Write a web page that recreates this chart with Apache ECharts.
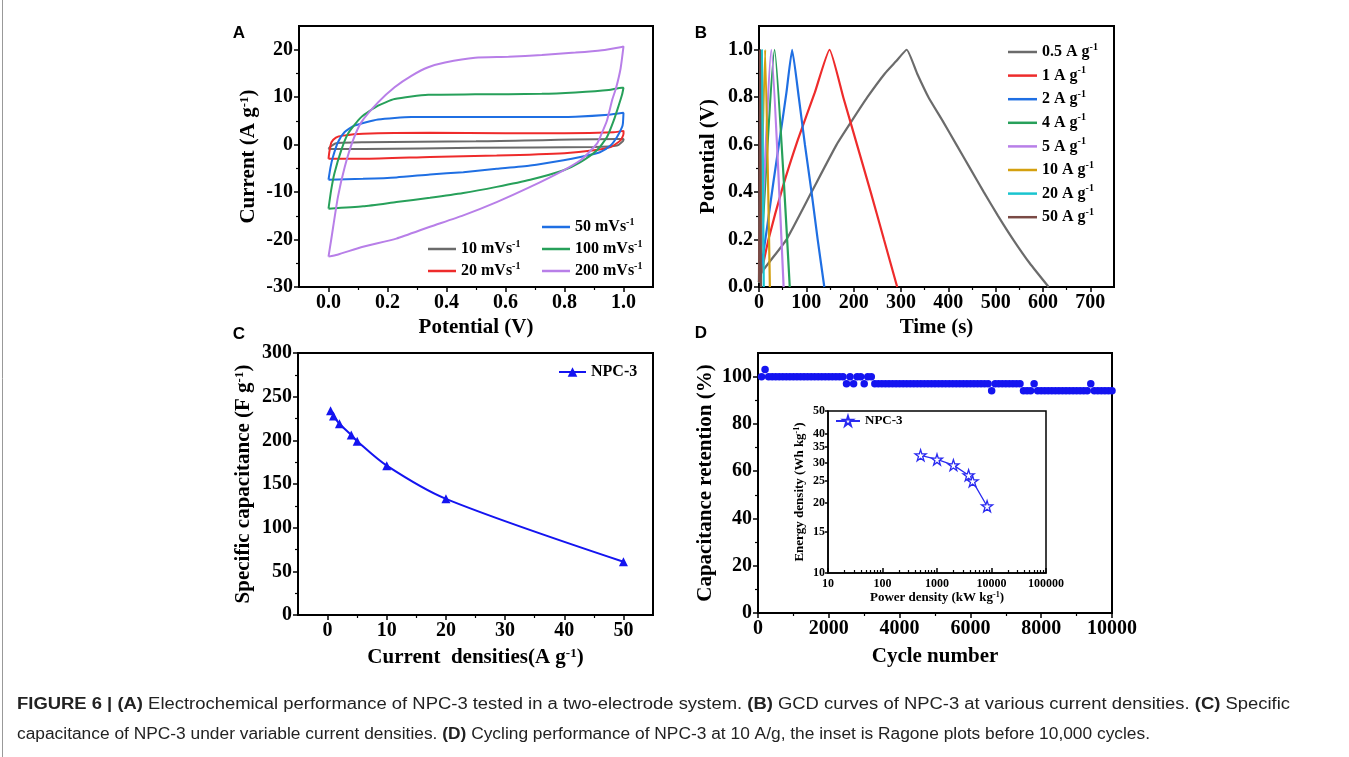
<!DOCTYPE html>
<html><head><meta charset="utf-8">
<script src="https://cdn.jsdelivr.net/npm/echarts@6/dist/echarts.min.js"></script>
<style>html,body{margin:0;padding:0;background:#fff}#c{width:1349px;height:757px}</style>
</head><body><div id="c"></div>
<script>
// ---------- Panel A: CV loops (potential V, current A/g) ----------
const cvNames = ['10 mVs-1','20 mVs-1','50 mVs-1','100 mVs-1','200 mVs-1'];
const cv10 = [[0,-0.9],[0.005,-0.5],[0.026,0.3],[0.12,0.5],[0.5,0.7],[0.98,1.2],[1.0,1.2],[1.0,1.0],[0.978,-0.2],[0.9,-0.5],[0.5,-0.65],[0.12,-0.9],[0,-0.9]];
const cv20 = [[0,-3.0],[0.003,-1.5],[0.01,0.5],[0.025,1.5],[0.049,1.9],[0.117,2.3],[0.344,2.5],[0.6,2.4],[0.8,2.4],[0.967,2.6],[1.0,2.9],[1.0,2.3],[0.99,0.9],[0.956,-0.5],[0.9,-1.2],[0.8,-1.8],[0.57,-2.3],[0.344,-2.6],[0.117,-3.0],[0,-3.0]];
const cv50 = [[0,-7.4],[0.007,-4.7],[0.015,-2.6],[0.032,0.5],[0.054,2.6],[0.088,4.0],[0.168,5.3],[0.281,5.8],[0.497,5.8],[0.723,5.8],[0.837,5.9],[0.95,6.3],[1.0,6.7],[0.998,4.5],[0.995,3.7],[0.978,1.6],[0.956,-0.2],[0.92,-1.6],[0.854,-2.6],[0.797,-3.3],[0.684,-4.4],[0.57,-5.1],[0.457,-5.8],[0.344,-6.3],[0.23,-6.9],[0.117,-7.2],[0,-7.4]];
const cv100 = [[0,-13.5],[0.009,-9.6],[0.02,-6.1],[0.043,-1.2],[0.066,2.3],[0.111,5.8],[0.168,8.2],[0.224,9.6],[0.338,10.5],[0.497,10.6],[0.723,10.7],[0.837,11.0],[0.95,11.5],[0.995,12.0],[1.0,12.0],[0.995,10.5],[0.985,8.5],[0.967,5.1],[0.944,1.6],[0.91,-1.2],[0.854,-3.7],[0.797,-5.4],[0.684,-7.4],[0.57,-8.9],[0.457,-10.2],[0.344,-11.2],[0.23,-12.1],[0.117,-13.0],[0,-13.5]];
const cv200 = [[0,-23.6],[0.009,-20.1],[0.032,-11.0],[0.055,-4.7],[0.083,0.9],[0.111,4.7],[0.168,8.9],[0.224,12.1],[0.281,14.5],[0.338,16.3],[0.395,17.3],[0.497,18.3],[0.61,18.5],[0.723,18.9],[0.837,19.4],[0.927,19.9],[0.995,20.6],[1.0,20.7],[0.99,16],[0.975,12],[0.962,9.5],[0.944,5.1],[0.925,2.2],[0.91,0.2],[0.88,-1.8],[0.854,-3.3],[0.797,-5.4],[0.684,-8.9],[0.57,-12.1],[0.457,-14.9],[0.344,-17.3],[0.23,-19.8],[0.117,-21.5],[0.03,-23.2],[0,-23.6]];
const cvXTicks = [0,0.2,0.4,0.6,0.8,1.0];
const cvXMinor = [0.1,0.3,0.5,0.7,0.9];
const cvYTicks = [-30,-20,-10,0,10,20];
const cvYMinor = [-25,-15,-5,5,15];

// ---------- Panel B: GCD curves (time s, potential V) ----------
const gcdNames = ['0.5 A g-1','1 A g-1','2 A g-1','4 A g-1','5 A g-1','10 A g-1','20 A g-1','50 A g-1'];
const gcd05 = [[0,0.02],[5,0.06],[58,0.2],[111,0.4],[164,0.6],[196,0.7],[229,0.8],[266,0.9],[289,0.95],[312,1.0],[334,0.9],[358,0.8],[388,0.7],[417,0.6],[446,0.5],[475,0.4],[505,0.3],[537,0.2],[572,0.1],[612,0.0]];
const gcd1 = [[0,0.02],[6,0.07],[20,0.2],[50,0.42],[82,0.62],[118,0.82],[149,1.0],[178,0.8],[207,0.6],[236,0.4],[264,0.2],[292,0.0]];
const gcd2 = [[0,0.02],[3,0.06],[17,0.25],[31,0.45],[45,0.64],[58,0.82],[70,1.0],[84,0.8],[97,0.6],[111,0.4],[124,0.2],[138,0.0]];
const gcd4 = [[0,0.02],[2,0.06],[33,1.0],[65,0.0]];
const gcd5 = [[0,0.02],[2,0.06],[26,1.0],[52,0.0]];
const gcd10 = [[0,0.02],[1,0.06],[13,1.0],[23,0.0]];
const gcd20 = [[0,0.02],[6,1.0],[10,0.0]];
const gcd50 = [[0,0.02],[2,1.0],[4,0.0]];
const gcdXTicks = [0,100,200,300,400,500,600,700];
const gcdXMinor = [50,150,250,350,450,550,650];
const gcdYTicks = [0,0.2,0.4,0.6,0.8,1.0];
const gcdYMinor = [0.1,0.3,0.5,0.7,0.9];

// ---------- Panel C: specific capacitance ----------
const capCurrent = [0.5,1,2,4,5,10,20,50];
const capValue = [234,228,219,206,199,171,133,61];
const capXTicks = [0,10,20,30,40,50];
const capXMinor = [5,15,25,35,45];
const capYTicks = [0,50,100,150,200,250,300];
const capYMinor = [25,75,125,175,225,275];

// ---------- Panel D: cycling retention (every 100 cycles from 100) ----------
const cycleStart = 100, cycleStep = 100;
const retention = [
 100,103,100,100,100,100,100,100,100,100,
 100,100,100,100,100,100,100,100,100,100,
 100,100,100,100,97,100,97,100,100,97,
 100,100,97,97,97,97,97,97,97,97,
 97,97,97,97,97,97,97,97,97,97,
 97,97,97,97,97,97,97,97,97,97,
 97,97,97,97,97,94,97,97,97,97,
 97,97,97,97,94,94,94,97,94,94,
 94,94,94,94,94,94,94,94,94,94,
 94,94,94,97,94,94,94,94,94,94
];
const cycXTicks = [0,2000,4000,6000,8000,10000];
const cycXMinor = [1000,3000,5000,7000,9000];
const cycYTicks = [0,20,40,60,80,100];
const cycYMinor = [10,30,50,70,90];

// ---------- Inset: Ragone plot ----------
const ragPower = [500,1000,2000,3800,4500,8300];
const ragEnergy = [32.2,30.9,29.2,26.4,24.9,19.4];
const ragXTicks = [10,100,1000,10000,100000];
const ragXMinor = [20,30,40,50,60,70,80,90,200,300,400,500,600,700,800,900,2000,3000,4000,5000,6000,7000,8000,9000,20000,30000,40000,50000,60000,70000,80000,90000];
const ragYTicks = [10,15,20,25,30,35,40,45,49.999];

// ---------- styling ----------
const SERIF = "'Liberation Serif','Times New Roman',serif";
const SANS = "'Liberation Sans',Arial,sans-serif";
function nameStyle(fs){
  return {fontFamily:SERIF,fontWeight:'bold',fontSize:fs,color:'#000',
    rich:{s:{fontFamily:SERIF,fontWeight:'bold',fontSize:Math.round(fs*0.6),color:'#000',verticalAlign:'top'}}};
}
function supName(n){ return n.endsWith('-1') ? n.slice(0,-2)+'{s|-1}' : n; }

function mainAxis(dim, grid, cfg){
  const ax = {
    type: cfg.type || 'value', gridIndex: grid, min: cfg.min, max: cfg.max,
    position: dim==='x' ? 'bottom' : 'left',
    axisLine:{show:true,onZero:false,lineStyle:{color:'#000',width:cfg.lw||2}},
    axisTick:{show:true,inside:!!cfg.tickInside,length:cfg.tickLen||5,customValues:cfg.ticks,lineStyle:{color:'#000',width:1.5}},
    axisLabel:{customValues:cfg.ticks,formatter:cfg.fmt||(v=>String(Math.round(v*1000)/1000)),fontFamily:SERIF,fontWeight:'bold',
      fontSize:cfg.fs||20,color:'#000',margin:cfg.margin||6,interval:0,showMaxLabel:true,showMinLabel:true},
    splitLine:{show:false},minorTick:{show:false},
    name:cfg.name,nameLocation:'middle',nameGap:cfg.nameGap,nameTextStyle:nameStyle(cfg.nfs||21)
  };
  if (cfg.logBase) ax.logBase = cfg.logBase;
  return ax;
}
function minorAxis(dim, grid, cfg){
  return {type: cfg.type || 'value', gridIndex:grid, min:cfg.min, max:cfg.max,
    position: dim==='x' ? 'bottom' : 'left', offset:0,
    axisLine:{show:false,onZero:false}, axisLabel:{show:false}, splitLine:{show:false},
    axisTick:{show:true,inside:!!cfg.tickInside,length:3,customValues:cfg.minor,lineStyle:{color:'#000',width:1.2}}};
}

const cvColors = ['#6b6b6b','#ee2b2b','#1f6fe3','#27a05a','#b87fe8'];
const gcdColors = ['#6b6b6b','#ee2b2b','#1f6fe3','#27a05a','#b87fe8','#d4a00f','#19c4cf','#7a4a45'];
const cvData = [cv10,cv20,cv50,cv100,cv200];
const gcdData = [gcd05,gcd1,gcd2,gcd4,gcd5,gcd10,gcd20,gcd50];
const BLUE = '#1414f0';
const STAR = 'path://M50,2 L61,36 L97,36 L68,57 L79,92 L50,71 L21,92 L32,57 L3,36 L39,36 Z';

const series = [];
cvData.forEach((d,i)=>series.push({type:'line',name:cvNames[i],xAxisIndex:0,yAxisIndex:0,data:d,symbol:'none',
  smooth:0.2,lineStyle:{width:2,color:cvColors[i]},itemStyle:{color:cvColors[i]}}));
gcdData.forEach((d,i)=>series.push({type:'line',name:gcdNames[i],xAxisIndex:2,yAxisIndex:2,data:d,symbol:'none',
  smooth:0.15,lineStyle:{width:2.2,color:gcdColors[i]},itemStyle:{color:gcdColors[i]}}));
series.push({type:'line',name:'NPC-3',xAxisIndex:4,yAxisIndex:4,data:capCurrent.map((x,i)=>[x,capValue[i]]),
  symbol:'triangle',symbolSize:9,smooth:0.3,lineStyle:{width:2,color:BLUE},itemStyle:{color:BLUE}});
series.push({type:'scatter',name:'retention',xAxisIndex:6,yAxisIndex:6,
  data:retention.map((v,i)=>[cycleStart+i*cycleStep,v]),symbol:'circle',symbolSize:7.5,itemStyle:{color:BLUE,opacity:1}});
series.push({type:'line',name:'NPC-3 inset',xAxisIndex:8,yAxisIndex:8,data:ragPower.map((x,i)=>[x,ragEnergy[i]]),
  symbol:STAR,symbolSize:11,lineStyle:{width:1.3,color:'#2a2af0'},itemStyle:{color:'#fff',borderColor:'#2a2af0',borderWidth:1.3}});

const xAxis = [
  mainAxis('x',0,{min:-0.1,max:1.1,ticks:cvXTicks,fmt:v=>v.toFixed(1),name:'Potential (V)',nameGap:30}),
  minorAxis('x',0,{min:-0.1,max:1.1,minor:cvXMinor}),
  mainAxis('x',1,{min:0,max:750,ticks:gcdXTicks,name:'Time (s)',nameGap:30}),
  minorAxis('x',1,{min:0,max:750,minor:gcdXMinor}),
  mainAxis('x',2,{min:-5,max:55,ticks:capXTicks,name:'Current  densities(A g{s|-1})',nameGap:32}),
  minorAxis('x',2,{min:-5,max:55,minor:capXMinor}),
  mainAxis('x',3,{min:0,max:10000,ticks:cycXTicks,name:'Cycle number',nameGap:33}),
  minorAxis('x',3,{min:0,max:10000,minor:cycXMinor}),
  mainAxis('x',4,{type:'log',logBase:10,min:10,max:100000,ticks:ragXTicks,fs:12,nfs:13,lw:1.5,tickInside:true,
    name:'Power density (kW kg{s|-1})',nameGap:17,margin:5}),
  minorAxis('x',4,{type:'log',min:10,max:100000,minor:ragXMinor,tickInside:true})
];
const yAxis = [
  mainAxis('y',0,{min:-30,max:25,ticks:cvYTicks,name:'Current (A g{s|-1})',nameGap:40}),
  minorAxis('y',0,{min:-30,max:25,minor:cvYMinor}),
  mainAxis('y',1,{min:0,max:1.1,ticks:gcdYTicks,fmt:v=>v.toFixed(1),name:'Potential (V)',nameGap:40}),
  minorAxis('y',1,{min:0,max:1.1,minor:gcdYMinor}),
  mainAxis('y',2,{min:0,max:300,ticks:capYTicks,name:'Specific capacitance (F g{s|-1})',nameGap:44}),
  minorAxis('y',2,{min:0,max:300,minor:capYMinor}),
  mainAxis('y',3,{min:0,max:110,ticks:cycYTicks,name:'Capacitance retention (%)',nameGap:42}),
  minorAxis('y',3,{min:0,max:110,minor:cycYMinor}),
  mainAxis('y',4,{type:'log',logBase:10,min:10,max:50.002,ticks:ragYTicks,fs:12,nfs:13,lw:1.5,tickLen:3,
    fmt:v=>String(Math.round(v)),name:'Energy density (Wh kg{s|-1})',nameGap:22,margin:3}),
  minorAxis('y',4,{type:'log',min:10,max:50.002,minor:[]})
];

function legend(data,left,top,fs,lh,gap,iw,icon,ih){
  const l = {data,left,top,orient:'vertical',itemWidth:iw,itemHeight:ih||12,itemGap:gap,selectedMode:false,padding:0,
    formatter:n=>supName(n.replace(' inset','')),
    textStyle:{fontFamily:SERIF,fontWeight:'bold',fontSize:fs,color:'#000',lineHeight:lh,
      rich:{s:{fontFamily:SERIF,fontWeight:'bold',fontSize:Math.round(fs*0.62),color:'#000',verticalAlign:'top'}}}};
  if (icon) l.icon = icon;
  return l;
}

// caption measurement
const CAP_FONT = 16;
const seg1 = [['b','FIGURE 6 | (A)'],['n',' Electrochemical performance of NPC-3 tested in a two-electrode system. '],['b','(B)'],['n',' GCD curves of NPC-3 at various current densities. '],['b','(C)'],['n',' Specific']];
const seg2 = [['n','capacitance of NPC-3 under variable current densities. '],['b','(D)'],['n',' Cycling performance of NPC-3 at 10 A/g, the inset is Ragone plots before 10,000 cycles.']];
const cctx = document.createElement('canvas').getContext('2d');
function measure(segs){ let w=0; segs.forEach(([t,s])=>{ cctx.font=(t==='b'?'bold ':'')+CAP_FONT+'px '+SANS; w+=cctx.measureText(s).width;}); return w; }
const capScale1 = 1273/measure(seg1);
const capScale2 = 1133/measure(seg2);
const richStr = segs => segs.map(([t,s])=>'{'+t+'|'+s+'}').join('');
const capRich = {b:{fontFamily:SANS,fontWeight:'bold',fontSize:CAP_FONT,fill:'#222'},n:{fontFamily:SANS,fontSize:CAP_FONT,fill:'#222'}};

const letter = (t,x,y)=>({type:'text',x,y,style:{text:t,fontFamily:SANS,fontWeight:'bold',fontSize:17,fill:'#000',align:'center',verticalAlign:'middle'}});

const option = {
  animation:false,
  backgroundColor:'#fff',
  grid:[
    {left:299,top:26,width:354,height:261,show:true,borderColor:'#000',borderWidth:2},
    {left:759,top:26,width:355,height:261,show:true,borderColor:'#000',borderWidth:2},
    {left:298,top:353,width:355,height:262,show:true,borderColor:'#000',borderWidth:2},
    {left:758,top:353,width:354,height:260,show:true,borderColor:'#000',borderWidth:2},
    {left:828,top:411,width:218,height:162,show:true,borderColor:'#000',borderWidth:1.5,backgroundColor:'#fff'}
  ],
  xAxis, yAxis, series,
  legend:[
    legend(['50 mVs-1','100 mVs-1','200 mVs-1'],542,217,16,20,2,28,'rect',2.5),
    legend(['10 mVs-1','20 mVs-1'],428,239,16,20,2,28,'rect',2.5),
    legend(gcdNames,1008,42,16,20,3.6,29,'rect',2.5),
    legend(['NPC-3'],558,362,16,20,2,27),
    legend(['NPC-3 inset'],835,413,13,16,2,24)
  ],
  graphic:[
    letter('A',239,33), letter('B',701,33), letter('C',239,334), letter('D',701,333),
    {type:'line',shape:{x1:2.5,y1:0,x2:2.5,y2:757},style:{stroke:'#999',lineWidth:1}},
    {type:'text',x:17,y:705,scaleX:capScale1,style:{text:richStr(seg1),rich:capRich,verticalAlign:'middle',fontSize:CAP_FONT}},
    {type:'text',x:17,y:735,scaleX:capScale2,style:{text:richStr(seg2),rich:capRich,verticalAlign:'middle',fontSize:CAP_FONT}}
  ]
};
const chart = echarts.init(document.getElementById('c'),null,{renderer:'canvas'});
chart.setOption(option);
</script></body></html>
